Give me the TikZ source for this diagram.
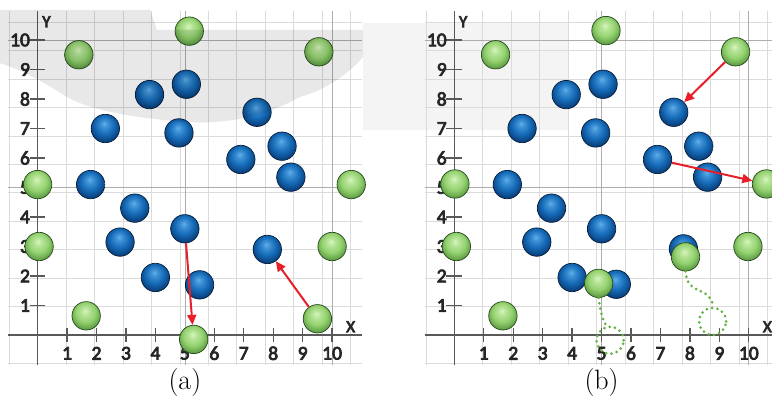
\documentclass[tikz,border=0pt]{standalone}
\usepackage{fontspec}
\newfontfamily\lblfont{Carlito}[FakeBold=4]
\usetikzlibrary{arrows.meta}
\definecolor{bhi}{RGB}{95,175,235}
\definecolor{bmid}{RGB}{22,108,185}
\definecolor{bdk}{RGB}{10,65,125}
\definecolor{brim}{RGB}{6,30,62}
\definecolor{ghi}{RGB}{215,245,190}
\definecolor{gmid}{RGB}{148,210,112}
\definecolor{gdk}{RGB}{92,155,66}
\definecolor{grim}{RGB}{40,75,30}
\definecolor{arrred}{RGB}{232,30,40}
\definecolor{dotg}{RGB}{100,178,68}
\pgfdeclareradialshading{blueball}{\pgfpoint{-2bp}{9bp}}{color(0bp)=(bhi);color(6bp)=(bhi!55!bmid);color(16bp)=(bmid);color(27bp)=(bdk);color(34bp)=(brim);color(50bp)=(brim)}
\pgfdeclareradialshading{greenball}{\pgfpoint{-2bp}{9bp}}{color(0bp)=(ghi);color(7bp)=(ghi!50!gmid);color(17bp)=(gmid);color(28bp)=(gdk);color(35bp)=(grim);color(50bp)=(grim)}
\newcommand\panelframe[1]{%
  \draw[gridl] (-1,-1) grid (11,11);
  \draw[gridd] (5,-1) -- (5,11) (10,-1) -- (10,11) (-1,5) -- (11,5) (-1,10) -- (11,10);
  \draw[axisl] (-1,0) -- (11,0) (0,-1) -- (0,11);
  \foreach \i in {1,...,10} {
    \draw[axisl, line width=1.3pt] (\i,-0.24) -- (\i,0.24);
    \draw[axisl, line width=1.3pt] (-0.27,\i) -- (0.25,\i);
    \node[tickl, anchor=east] (#1-yl\i) at (-0.22,\i) {\i};
    \node[tickl] (#1-xl\i) at (\i,-0.62) {\i};
  }
  \node[axlbl] (#1-ylab) at (0.3,10.62) {Y};
  \node[axlbl] (#1-xlab) at (10.63,0.28) {X};
}
\begin{document}
\begin{tikzpicture}[x=29.45pt,y=29.5pt,
  gridl/.style={draw=black!14, line width=0.6pt},
  gridd/.style={draw=black!32, line width=0.7pt},
  axisl/.style={draw=black!65, line width=1.6pt},
  tickl/.style={font=\lblfont\fontsize{19.5}{19.5}\selectfont, text=black!85, inner sep=1pt},
  axlbl/.style={font=\lblfont\fontsize{17}{17}\selectfont, text=black!85, inner sep=1pt},
  bb/.style={circle, inner sep=0pt, minimum size=28.4pt, shading=blueball, draw=brim, line width=0.7pt},
  gb/.style={circle, inner sep=0pt, minimum size=28.4pt, shading=greenball, draw=grim, line width=0.7pt},
  dcirc/.style={circle, inner sep=0pt, minimum size=27pt, draw=dotg, line width=3pt, dash pattern=on 0pt off 5.4pt, line cap=round},
  dpath/.style={draw=dotg, line width=3pt, dash pattern=on 0pt off 5.4pt, line cap=round},
  redarrow/.style={draw=arrred, line width=2pt, -{Triangle[length=10pt,width=9pt]}},
  captxt/.style={font=\fontsize{28}{28}\selectfont, inner sep=0pt}
]
\useasboundingbox (-1.277,-2.169) rectangle (24.937,11.356);
\clip (-1.277,-2.169) rectangle (24.937,11.356);
% ---------- panel (a)
\begin{scope}
\panelframe{a}
\foreach \n/\x/\y in {b1/3.8/8.15, b2/5.05/8.5, b3/7.45/7.55, b4/2.3/7.0, b5/4.8/6.85, b6/6.9/5.95, b7/8.3/6.4, b8/8.6/5.35, b9/1.8/5.1, b10/3.3/4.3, b11/5.0/3.6, b12/2.8/3.15, b13/7.8/2.9, b14/4.0/1.95, b15/5.5/1.7}
  \node[bb] (a-\n) at (\x,\y) {};
\foreach \n/\x/\y in {g1/1.4/9.5, g2/5.15/10.3, g3/9.55/9.6, g4/0.0/5.1, g5/10.65/5.1, g6/0.05/3.0, g7/10.0/3.0, g8/1.65/0.65, g9/5.3/-0.15, g10/9.5/0.55}
  \node[gb] (a-\n) at (\x,\y) {};
\fill[black, opacity=0.09] (-1.3,11.02) -- (3.82,11.02) -- (4.05,10.34) -- (11.05,10.34) -- (11.05,9.42)
  .. controls (10.6,8.9) and (9.8,8.3) .. (8.91,8.07)
  .. controls (8.0,7.6) and (7.3,7.25) .. (5.5,7.2)
  .. controls (3.5,7.3) and (1.8,7.6) .. (1.0,8.07)
  .. controls (0.3,8.5) and (-0.5,9.0) .. (-1.3,9.22) -- cycle;
\draw[redarrow] (a-b11) -- (a-g9);
\draw[redarrow] (a-g10) -- (a-b13);
\node[captxt] (capa) at (5.0,-1.6) {(a)};
\end{scope}
% ---------- panel (b)
\begin{scope}[shift={(14.15,0)}]
\fill[black, opacity=0.045] (-3.1,10.58) rectangle (3.85,6.95);
\panelframe{b}
\foreach \n/\x/\y in {b1/3.8/8.15, b2/5.05/8.5, b3/7.45/7.55, b4/2.3/7.0, b5/4.8/6.85, b6/6.9/5.95, b7/8.3/6.4, b8/8.6/5.35, b9/1.8/5.1, b10/3.3/4.3, b11/5.0/3.6, b12/2.8/3.15, b13/7.78/2.92, b14/4.0/1.95, b15/5.5/1.72}
  \node[bb] (b-\n) at (\x,\y) {};
\foreach \n/\x/\y in {g1/1.4/9.5, g2/5.15/10.32, g3/9.55/9.6, g4/0.02/5.12, g5/10.6/5.12, g6/0.07/3.0, g7/9.97/3.0, g8/1.65/0.65, gm1/4.9/1.75, gm2/7.85/2.65}
  \node[gb] (b-\n) at (\x,\y) {};
\node[dcirc] (b-dc1) at (5.29,-0.18) {};
\node[dcirc] (b-dc2) at (8.77,0.46) {};
\draw[dpath] (b-gm1.south) .. controls (4.95,0.85) and (5.0,0.6) .. (b-dc1.105);
\draw[dpath] (b-gm2.south) .. controls (7.88,1.75) and (8.05,1.6) .. (8.45,1.45) .. controls (8.7,1.3) and (8.77,1.15) .. (b-dc2.north);
\draw[redarrow] (b-g3) -- (b-b3);
\draw[redarrow] (b-b6) -- (b-g5);
\node[captxt] (capb) at (5.0,-1.61) {(b)};
\end{scope}
\end{tikzpicture}
\end{document}
